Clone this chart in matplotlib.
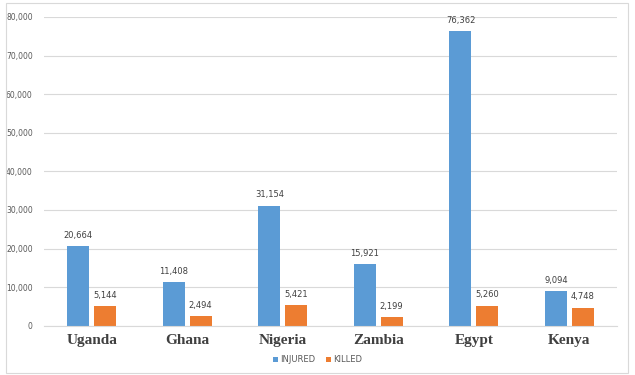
import numpy as np
import matplotlib.pyplot as plt
from matplotlib.patches import Rectangle

countries = ['Uganda', 'Ghana', 'Nigeria', 'Zambia', 'Egypt', 'Kenya']
injured = np.array([20664, 11408, 31154, 15921, 76362, 9094])
killed = np.array([5144, 2494, 5421, 2199, 5260, 4748])

blue = '#5B9BD5'
orange = '#ED7D31'

fig = plt.figure(figsize=(6.35, 3.75), dpi=100)
ax = fig.add_axes([0.069, 0.131, 0.903, 0.824])

x = np.arange(len(countries))
w = 0.23
off = 0.14
ax.bar(x - off, injured, w, color=blue, label='INJURED')
ax.bar(x + off, killed, w, color=orange, label='KILLED')

for xi, v in zip(x, injured):
    ax.text(xi - off, v + 1600, f'{v:,}', ha='center', va='bottom', fontsize=6, color='#404040')
for xi, v in zip(x, killed):
    ax.text(xi + off, v + 1600, f'{v:,}', ha='center', va='bottom', fontsize=6, color='#404040')

ax.set_xlim(-0.5, 5.5)
ax.set_ylim(0, 80000)
ax.set_yticks(np.arange(0, 80001, 10000))
ax.yaxis.set_major_formatter(plt.FuncFormatter(lambda v, p: f'{int(v):,}'))
ax.tick_params(axis='y', length=0, labelsize=5.5, labelcolor='#595959', pad=8)
ax.set_xticks(x)
ax.set_xticklabels(countries, fontfamily='Liberation Serif', fontweight='bold',
                   fontsize=11, color='#404040')
ax.tick_params(axis='x', length=0, pad=6)
ax.grid(axis='y', color='#D9D9D9', linewidth=0.8)
ax.set_axisbelow(True)
for s in ['top', 'right', 'left']:
    ax.spines[s].set_visible(False)
ax.spines['bottom'].set_color('#D9D9D9')

fig.legend(loc='lower center', bbox_to_anchor=(0.5, 0.008), ncol=2, frameon=False,
           fontsize=6, handlelength=0.6, handleheight=0.6, columnspacing=1.2,
           handletextpad=0.3, labelcolor='#595959')

fig.patches.append(Rectangle((6 / 635, 2 / 375), 622 / 635, 370 / 375, transform=fig.transFigure,
                             fill=False, edgecolor='#D9D9D9', linewidth=0.8))

fig.savefig('out.png', dpi=100)
